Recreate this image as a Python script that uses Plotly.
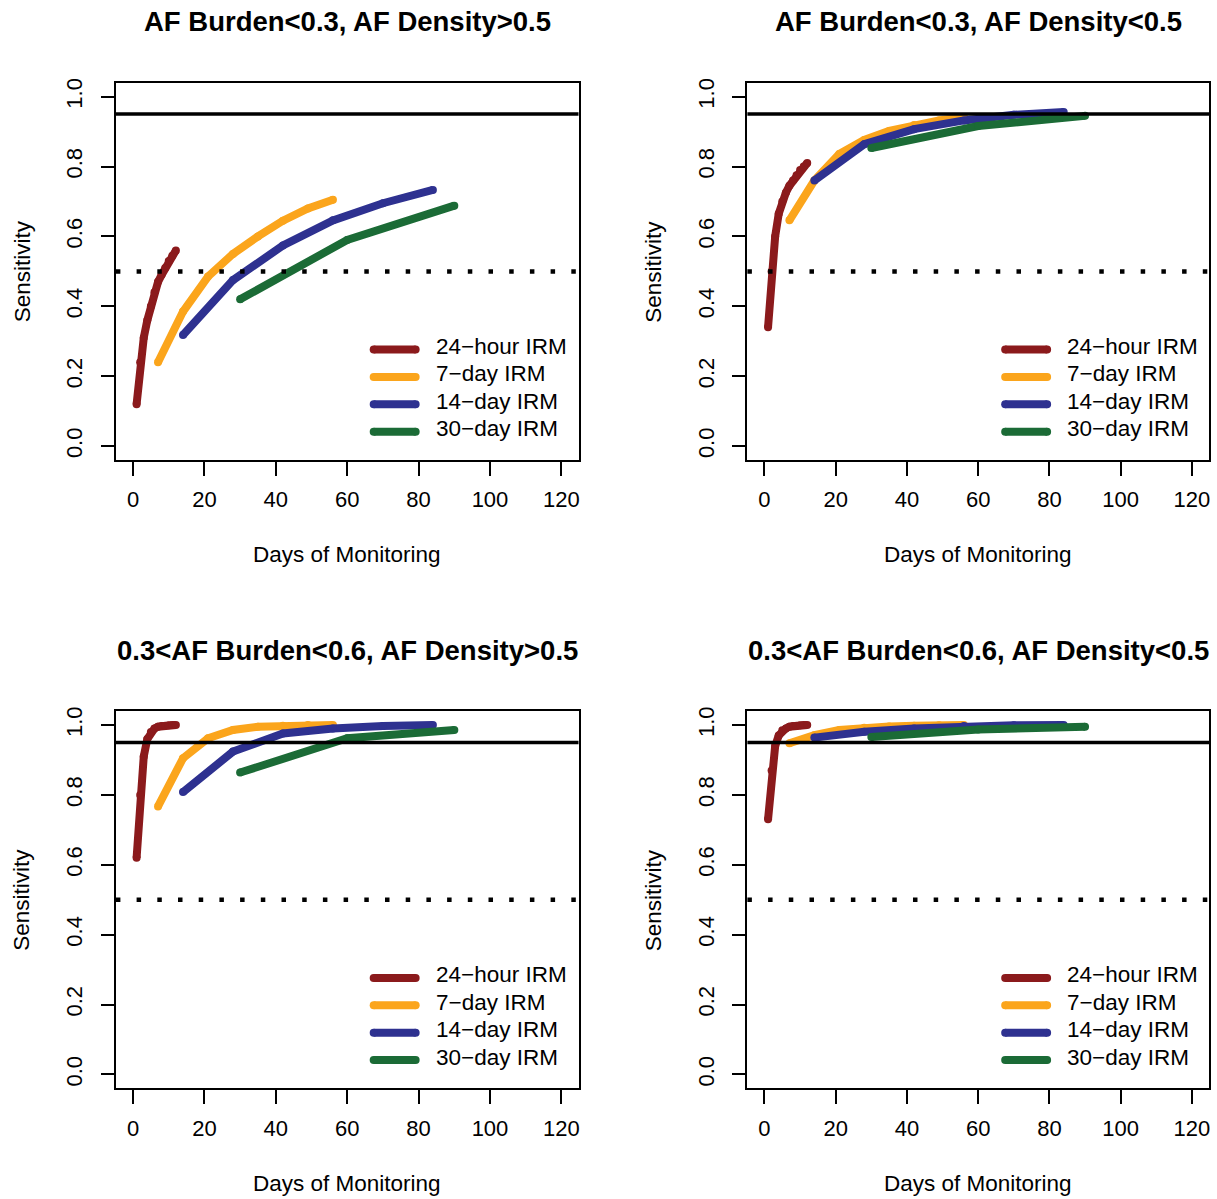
import plotly.graph_objects as go

# ---------------- data ----------------
days_24h = [1, 2, 3, 4, 5, 6, 7, 8, 9, 10, 11, 12]
days_7d = [7, 14, 21, 28, 35, 42, 49, 56]
days_14d = [14, 28, 42, 56, 70, 84]
days_30d = [30, 60, 90]

series_names = ["24\u2212hour IRM", "7\u2212day IRM", "14\u2212day IRM", "30\u2212day IRM"]
series_colors = ["#8B1A1C", "#FBA51C", "#2E3190", "#1B6B36"]

panel_titles = [
    "AF Burden&lt;0.3, AF Density&gt;0.5",
    "AF Burden&lt;0.3, AF Density&lt;0.5",
    "0.3&lt;AF Burden&lt;0.6, AF Density&gt;0.5",
    "0.3&lt;AF Burden&lt;0.6, AF Density&lt;0.5",
]

# panel 1: AF Burden<0.3, AF Density>0.5
p1_24h = [0.12, 0.24, 0.31, 0.36, 0.40, 0.44, 0.47, 0.49, 0.51, 0.53, 0.545, 0.56]
p1_7d = [0.24, 0.385, 0.485, 0.55, 0.60, 0.645, 0.68, 0.705]
p1_14d = [0.318, 0.475, 0.574, 0.646, 0.695, 0.733]
p1_30d = [0.42, 0.59, 0.688]

# panel 2: AF Burden<0.3, AF Density<0.5
p2_24h = [0.34, 0.50, 0.60, 0.665, 0.70, 0.725, 0.745, 0.76, 0.775, 0.79, 0.80, 0.81]
p2_7d = [0.646, 0.76, 0.836, 0.876, 0.902, 0.919, 0.932, 0.942]
p2_14d = [0.76, 0.864, 0.907, 0.932, 0.948, 0.956]
p2_30d = [0.853, 0.916, 0.945]

# panel 3: 0.3<AF Burden<0.6, AF Density>0.5
p3_24h = [0.62, 0.80, 0.91, 0.96, 0.98, 0.99, 0.995, 0.997, 0.998, 0.999, 1.0, 1.0]
p3_7d = [0.767, 0.905, 0.962, 0.986, 0.995, 0.998, 1.0, 1.0]
p3_14d = [0.808, 0.924, 0.976, 0.99, 0.997, 1.0]
p3_30d = [0.864, 0.962, 0.986]

# panel 4: 0.3<AF Burden<0.6, AF Density<0.5
p4_24h = [0.73, 0.87, 0.94, 0.97, 0.985, 0.99, 0.995, 0.997, 0.998, 0.999, 1.0, 1.0]
p4_7d = [0.948, 0.971, 0.986, 0.992, 0.996, 0.998, 0.999, 1.0]
p4_14d = [0.964, 0.981, 0.990, 0.997, 0.999, 1.0]
p4_30d = [0.966, 0.987, 0.995]

x_ticks = [0, 20, 40, 60, 80, 100, 120]
y_ticks = [0.0, 0.2, 0.4, 0.6, 0.8, 1.0]
y_ticklabels = ["0.0", "0.2", "0.4", "0.6", "0.8", "1.0"]
target_line = 0.95
half_line = 0.5

x_title = "Days of Monitoring"
y_title = "Sensitivity"

# ---------------- layout geometry ----------------
W, H = 1217, 1199
FONT = "Liberation Sans, Arial, Helvetica, sans-serif"
LW = 8

# plot boxes in pixels (left, right, top, bottom)
boxes = [
    (116, 579, 78, 457),
    (748, 1210, 78, 457),
    (116, 579, 709, 1088),
    (748, 1210, 709, 1088),
]

panels = [
    (p1_24h, p1_7d, p1_14d, p1_30d),
    (p2_24h, p2_7d, p2_14d, p2_30d),
    (p3_24h, p3_7d, p3_14d, p3_30d),
    (p4_24h, p4_7d, p4_14d, p4_30d),
]
day_sets = [days_24h, days_7d, days_14d, days_30d]

fig = go.Figure()
annotations = []
shapes = []
layout = {}

for i, (box, vals) in enumerate(zip(boxes, panels)):
    k = i + 1
    xa = "x" if k == 1 else f"x{k}"
    ya = "y" if k == 1 else f"y{k}"
    L, R, T, B = box
    xdom = [L / W, R / W]
    ydom = [1 - B / H, 1 - T / H]

    for days, v, name, col in zip(day_sets, vals, series_names, series_colors):
        fig.add_trace(go.Scatter(
            x=days, y=v, mode="lines+markers", name=name,
            line=dict(color=col, width=LW, shape="linear"),
            marker=dict(color=col, size=LW, line=dict(width=0)),
            xaxis=xa, yaxis=ya, showlegend=False,
            hoverinfo="skip",
        ))

    axis_common = dict(
        showline=True, mirror=True, linecolor="black", linewidth=2,
        ticks="outside", tickcolor="black", tickwidth=2,
        showgrid=False, zeroline=False,
        tickfont=dict(family=FONT, size=22, color="black"),
    )
    layout["xaxis" if k == 1 else f"xaxis{k}"] = dict(
        domain=xdom, anchor=ya, range=[-4.8, 124.8],
        tickvals=x_ticks, ticklen=14, ticklabelstandoff=5, **axis_common)
    layout["yaxis" if k == 1 else f"yaxis{k}"] = dict(
        domain=ydom, anchor=xa, range=[-0.04, 1.04],
        tickvals=y_ticks, ticktext=y_ticklabels, tickangle=-90,
        ticklen=13, ticklabelstandoff=10, **axis_common)

    # reference lines
    shapes.append(dict(type="line", xref=f"{xa} domain", yref=ya,
                       x0=0, x1=1, y0=target_line, y1=target_line,
                       line=dict(color="black", width=3.5)))
    shapes.append(dict(type="line", xref=f"{xa} domain", yref=ya,
                       x0=0, x1=1, y0=half_line, y1=half_line,
                       line=dict(color="black", width=4.5, dash="4.5px,16.2px")))

    cx = (L + R) / 2 / W
    # title
    annotations.append(dict(text=f"<b>{panel_titles[i]}</b>", x=cx, y=1 - (T - 56) / H,
                            xref="paper", yref="paper", showarrow=False,
                            xanchor="center", yanchor="middle",
                            font=dict(family=FONT, size=27.5, color="black")))
    # x title
    annotations.append(dict(text=x_title, x=cx, y=1 - (B + 95) / H,
                            xref="paper", yref="paper", showarrow=False,
                            xanchor="center", yanchor="middle",
                            font=dict(family=FONT, size=22.5, color="black")))
    # y title
    annotations.append(dict(text=y_title, x=(L - 94) / W, y=1 - (T + B) / 2 / H,
                            xref="paper", yref="paper", showarrow=False, textangle=-90,
                            xanchor="center", yanchor="middle",
                            font=dict(family=FONT, size=22.5, color="black")))

    # legend (drawn in the R style: thick line sample + label)
    for j, (name, col) in enumerate(zip(series_names, series_colors)):
        ry = T + 268 + j * 27.5
        shapes.append(dict(type="line", xref="paper", yref="paper",
                           x0=(L + 258) / W, x1=(L + 300) / W,
                           y0=1 - ry / H, y1=1 - ry / H,
                           line=dict(color=col, width=LW)))
        shapes.append(dict(type="circle", xref="paper", yref="paper",
                           x0=(L + 258 - LW / 2) / W, x1=(L + 258 + LW / 2) / W,
                           y0=1 - (ry + LW / 2) / H, y1=1 - (ry - LW / 2) / H,
                           fillcolor=col, line=dict(width=0)))
        shapes.append(dict(type="circle", xref="paper", yref="paper",
                           x0=(L + 300 - LW / 2) / W, x1=(L + 300 + LW / 2) / W,
                           y0=1 - (ry + LW / 2) / H, y1=1 - (ry - LW / 2) / H,
                           fillcolor=col, line=dict(width=0)))
        annotations.append(dict(text=name, x=(L + 318) / W, y=1 - (ry - 3) / H,
                                xref="paper", yref="paper", showarrow=False,
                                xanchor="left", yanchor="middle",
                                font=dict(family=FONT, size=22.5, color="black")))

# titles sit a little higher (5 px) than the initial estimate
for a in annotations:
    if a["text"].startswith("<b>"):
        a["y"] += 5 / H

fig.update_layout(
    width=W, height=H, autosize=False,
    margin=dict(l=0, r=0, t=0, b=0),
    paper_bgcolor="white", plot_bgcolor="white",
    annotations=annotations, shapes=shapes,
    font=dict(family=FONT, color="black"),
    **layout,
)

fig.write_html(
    "out.html",
    config={"displayModeBar": False, "staticPlot": True},
    post_script="document.body.style.margin='0';document.body.style.overflow='hidden';",
)
